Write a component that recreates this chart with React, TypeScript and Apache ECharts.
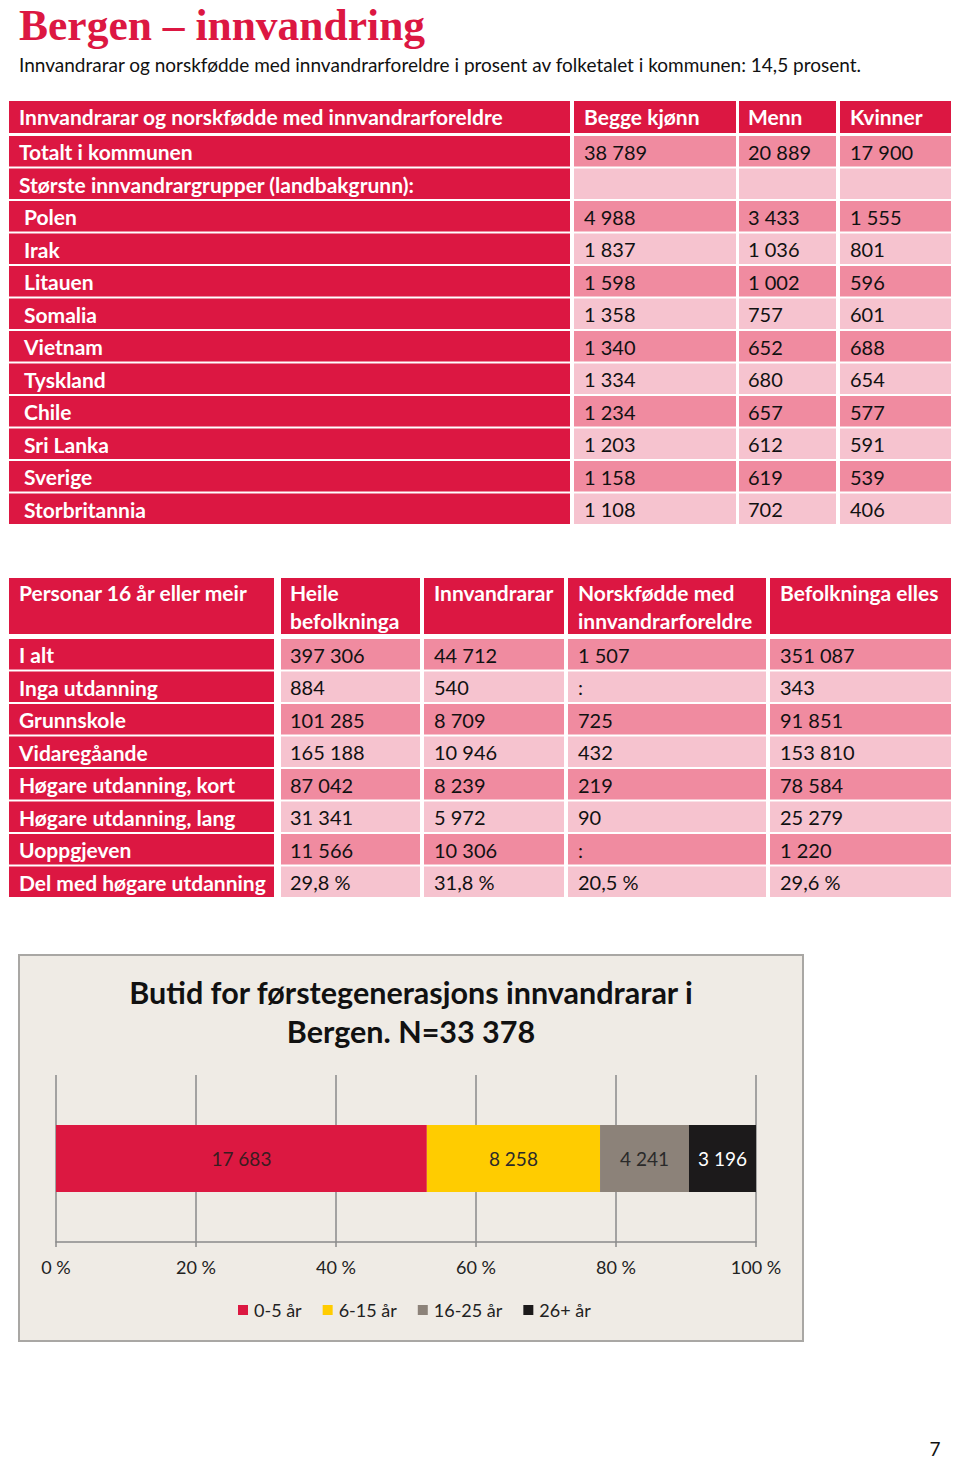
import React, { useEffect, useRef } from "react";
import * as echarts from "echarts";

// ---------- Data ----------
const pageTitle = "Bergen – innvandring";
const pageSubtitle =
  "Innvandrarar og norskfødde med innvandrarforeldre i prosent av folketalet i kommunen: 14,5 prosent.";
const pageNumber = "7";

const table1Header = ["Innvandrarar og norskfødde med innvandrarforeldre", "Begge kjønn", "Menn", "Kvinner"];
const table1Rows = [
  "Totalt i kommunen",
  "Største innvandrargrupper (landbakgrunn):",
  "Polen",
  "Irak",
  "Litauen",
  "Somalia",
  "Vietnam",
  "Tyskland",
  "Chile",
  "Sri Lanka",
  "Sverige",
  "Storbritannia",
];
const beggeKjonn = [38789, null, 4988, 1837, 1598, 1358, 1340, 1334, 1234, 1203, 1158, 1108];
const menn = [20889, null, 3433, 1036, 1002, 757, 652, 680, 657, 612, 619, 702];
const kvinner = [17900, null, 1555, 801, 596, 601, 688, 654, 577, 591, 539, 406];

const table2Header = [
  ["Personar 16 år eller meir"],
  ["Heile", "befolkninga"],
  ["Innvandrarar"],
  ["Norskfødde med", "innvandrarforeldre"],
  ["Befolkninga elles"],
];
const eduRows = [
  "I alt",
  "Inga utdanning",
  "Grunnskole",
  "Vidaregåande",
  "Høgare utdanning, kort",
  "Høgare utdanning, lang",
  "Uoppgjeven",
  "Del med høgare utdanning",
];
const heileBefolkninga = [397306, 884, 101285, 165188, 87042, 31341, 11566, 29.8];
const innvandrarar = [44712, 540, 8709, 10946, 8239, 5972, 10306, 31.8];
const norskfodde = [1507, null, 725, 432, 219, 90, null, 20.5];
const befolkningaElles = [351087, 343, 91851, 153810, 78584, 25279, 1220, 29.6];
const percentRow = 7;

const chartTitle = ["Butid for førstegenerasjons innvandrarar i", "Bergen. N=33 378"];
const butidCategories = ["0-5 år", "6-15 år", "16-25 år", "26+ år"];
const butidValues = [17683, 8258, 4241, 3196];
const butidColors = ["#DC1841", "#FFCC00", "#8C8279", "#1C1A1B"];
const butidLabelColors = ["#3a1c20", "#2a2a2a", "#2a2a2a", "#ffffff"];

// ---------- Helpers ----------
const FONT = "Lato, 'Open Sans', sans-serif";
const RED = "#DC1742";
const PINK_DARK = "#F08BA0";
const PINK_LIGHT = "#F6C3CF";

const fmtInt = (n: number | null) =>
  n === null ? ":" : String(n).replace(/\B(?=(\d{3})+(?!\d))/g, " ");
const fmtPct = (n: number | null) => (n === null ? ":" : n.toFixed(1).replace(".", ",") + " %");

function rect(x: number, y: number, w: number, h: number, fill: string, extra: any = {}) {
  return { type: "rect", shape: { x, y, width: w, height: h }, style: { fill, ...extra }, silent: true };
}
function text(
  s: string,
  x: number,
  y: number,
  size: number,
  fill: string,
  weight: string = "normal",
  align: string = "left",
  family: string = FONT
) {
  return {
    type: "text",
    x,
    y,
    silent: true,
    style: {
      text: s,
      fill,
      fontSize: size,
      fontWeight: weight,
      fontFamily: family,
      textAlign: align,
      textVerticalAlign: "middle",
      align,
      verticalAlign: "middle",
    },
  };
}

const HDR = 21;
const NUM = 20;

function buildGraphics() {
  const g: any[] = [];
  // page title & subtitle
  g.push(text(pageTitle, 19, 25, 43.5, RED, "bold", "left", "'Liberation Serif', 'DejaVu Serif', serif"));
  g.push(text(pageSubtitle, 19, 64, 19, "#111", "normal"));

  // ----- Table 1 -----
  const c1 = [
    [9, 561],
    [574, 162],
    [739, 97],
    [840, 111],
  ];
  const t1TextX = [19, 584, 748, 850];
  const hdrY = 101;
  const hdrH = 32;
  c1.forEach(([x, w], i) => {
    g.push(rect(x, hdrY, w, hdrH, RED));
    g.push(text(table1Header[i], t1TextX[i], hdrY + hdrH / 2 - 1, HDR, "#fff", "bold"));
  });
  const cols1 = [beggeKjonn, menn, kvinner];
  table1Rows.forEach((label, r) => {
    const y = 136 + r * 32.5;
    const h = 30.5;
    g.push(rect(c1[0][0], y, c1[0][1], h, RED));
    g.push(text(label, r < 2 ? 19 : 24, y + h / 2 + 0.5, HDR, "#fff", "bold"));
    const fill = r % 2 === 0 ? PINK_DARK : PINK_LIGHT;
    cols1.forEach((arr, ci) => {
      g.push(rect(c1[ci + 1][0], y, c1[ci + 1][1], h, fill));
      if (arr[r] !== null) g.push(text(fmtInt(arr[r]), t1TextX[ci + 1], y + h / 2 + 0.5, NUM, "#111"));
    });
  });

  // ----- Table 2 -----
  const c2 = [
    [9, 265],
    [281, 139],
    [424, 140],
    [568, 198],
    [770, 181],
  ];
  const t2TextX = [19, 290, 434, 578, 780];
  const h2Y = 578;
  const h2H = 56;
  c2.forEach(([x, w], i) => {
    g.push(rect(x, h2Y, w, h2H, RED));
    table2Header[i].forEach((line, li) => {
      g.push(text(line, t2TextX[i], h2Y + 14.5 + li * 28, HDR, "#fff", "bold"));
    });
  });
  const cols2 = [heileBefolkninga, innvandrarar, norskfodde, befolkningaElles];
  eduRows.forEach((label, r) => {
    const y = 639 + r * 32.5;
    const h = 30.5;
    g.push(rect(c2[0][0], y, c2[0][1], h, RED));
    g.push(text(label, 19, y + h / 2 + 0.5, HDR, "#fff", "bold"));
    const fill = r % 2 === 0 ? PINK_DARK : PINK_LIGHT;
    cols2.forEach((arr, ci) => {
      g.push(rect(c2[ci + 1][0], y, c2[ci + 1][1], h, fill));
      const s = r === percentRow ? fmtPct(arr[r]) : fmtInt(arr[r]);
      g.push(text(s, t2TextX[ci + 1], y + h / 2 + 0.5, NUM, "#111"));
    });
  });

  // ----- Chart box -----
  g.push({
    type: "rect",
    z: -10,
    silent: true,
    shape: { x: 19, y: 955, width: 784, height: 386 },
    style: { fill: "#EFEBE5", stroke: "#A9A7A4", lineWidth: 2 },
  });
  chartTitle.forEach((line, i) => {
    g.push(text(line, 411, 992 + i * 39, 30.5, "#111", "bold", "center"));
  });

  g.push(text(pageNumber, 935, 1448, 19, "#111", "normal", "center"));
  return g;
}

const App: React.FC = () => {
  const ref = useRef<HTMLDivElement>(null);
  useEffect(() => {
    if (!ref.current) return;
    const chart = echarts.init(ref.current, undefined, { renderer: "svg" });
    const total = butidValues.reduce((a, b) => a + b, 0);
    const option: any = {
      animation: false,
      backgroundColor: "#ffffff",
      textStyle: { fontFamily: FONT },
      graphic: { elements: buildGraphics() },
      grid: { left: 56, top: 1075, width: 700, height: 167, containLabel: false },
      legend: {
        data: butidCategories,
        left: 233,
        top: 1296,
        icon: "rect",
        itemWidth: 10,
        itemHeight: 10,
        itemGap: 21,
        textStyle: { fontSize: 18, color: "#222", fontFamily: FONT, padding: [0, 0, 0, 1] },
        selectedMode: false,
      },
      xAxis: {
        type: "value",
        min: 0,
        max: 100,
        interval: 20,
        axisLine: { show: true, lineStyle: { color: "#8a8a8a", width: 1.5 } },
        axisTick: { show: true, length: 5, inside: false, lineStyle: { color: "#8a8a8a", width: 1.5 } },
        splitLine: { show: true, lineStyle: { color: "#8a8a8a", width: 1.5 } },
        axisLabel: {
          formatter: (v: number) => v + " %",
          fontSize: 18,
          color: "#222",
          margin: 16,
          fontFamily: FONT,
        },
      },
      yAxis: {
        type: "category",
        data: ["Bergen"],
        show: false,
      },
      series: butidCategories.map((name, i) => ({
        name,
        type: "bar",
        stack: "butid",
        barWidth: 67,
        data: [(butidValues[i] / total) * 100],
        itemStyle: { color: butidColors[i] },
        label: {
          show: true,
          position: "inside",
          formatter: () => fmtInt(butidValues[i]),
          fontSize: 19,
          color: butidLabelColors[i],
          fontFamily: FONT,
        },
      })),
    };
    chart.setOption(option);
    return () => chart.dispose();
  }, []);
  return (
    <div
      ref={ref}
      style={{ position: "absolute", left: 0, top: 0, width: 960, height: 1460, background: "#fff" }}
    />
  );
};

export default App;
